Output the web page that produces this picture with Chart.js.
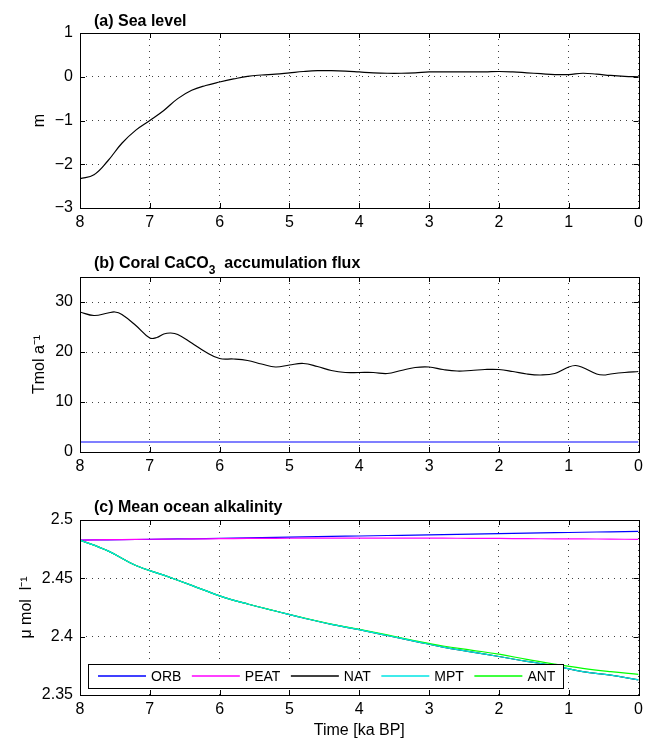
<!DOCTYPE html>
<html>
<head>
<meta charset="utf-8">
<title>Sea level, coral CaCO3 flux and mean ocean alkalinity</title>
<script src="https://cdn.jsdelivr.net/npm/chart.js@4.4.1/dist/chart.umd.min.js"></script>
<style>
    html, body { margin: 0; padding: 0; background: #fff; }
    #wrap {
        position: relative;
        width: 648px;
        height: 740px;
        font-family: "Liberation Sans", Arial, Helvetica, sans-serif;
    }
    #wrap canvas { position: absolute; left: 0; }
    .panel-title {
        position: absolute;
        left: 94px;
        font-size: 16px;
        font-weight: bold;
        line-height: 16px;
        white-space: pre;
        color: #000;
    }
    .panel-title sub { font-size: 12px; vertical-align: -6px; line-height: 0; }
</style>
</head>
<body>
<div id="wrap">
    <canvas id="chartA" width="648" height="240" style="top:0"></canvas>
    <canvas id="chartB" width="648" height="245" style="top:240px"></canvas>
    <canvas id="chartC" width="648" height="255" style="top:485px"></canvas>
    <div class="panel-title" style="top:13px">(a) Sea level</div>
    <div class="panel-title" style="top:255px">(b) Coral CaCO<sub>3</sub>  accumulation flux</div>
    <div class="panel-title" style="top:499px">(c) Mean ocean alkalinity</div>
</div>
<script>
(function () {
    'use strict';

    // ---- data (time in ka BP) ----
    var X_TICKS = [8, 7, 6, 5, 4, 3, 2, 1, 0];

    var timeA = [8, 7.8, 7.6, 7.4, 7.2, 7, 6.8, 6.6, 6.4, 6.2, 6, 5.8, 5.6, 5.4, 5.2, 5,
        4.8, 4.6, 4.4, 4.2, 4, 3.8, 3.6, 3.4, 3.2, 3, 2.8, 2.6, 2.4, 2.2, 2,
        1.8, 1.6, 1.4, 1.2, 1, 0.8, 0.6, 0.4, 0.2, 0];
    var seaLevel = [-2.33, -2.24, -1.92, -1.52, -1.22, -1.0, -0.77, -0.5, -0.31, -0.2, -0.12,
        -0.05, 0.01, 0.04, 0.06, 0.09, 0.12, 0.14, 0.14, 0.13, 0.11, 0.09, 0.08, 0.08, 0.09,
        0.11, 0.11, 0.11, 0.11, 0.11, 0.12, 0.11, 0.09, 0.07, 0.05, 0.05, 0.08, 0.06, 0.03,
        0.01, 0.0];
    var yTicksA = [-3, -2, -1, 0, 1];

    var timeB = [8, 7.8, 7.6, 7.5, 7.4, 7.2, 7, 6.9, 6.8, 6.7, 6.6, 6.4, 6.2, 6, 5.8, 5.6,
        5.4, 5.2, 5, 4.8, 4.6, 4.4, 4.2, 4, 3.8, 3.6, 3.4, 3.2, 3, 2.8, 2.6, 2.4, 2.2, 2,
        1.8, 1.6, 1.4, 1.2, 1, 0.9, 0.8, 0.6, 0.5, 0.4, 0.2, 0];
    var coralFlux = [28.0, 27.3, 27.8, 28.0, 27.5, 25.3, 22.8, 22.9, 23.6, 23.8, 23.5, 21.8,
        20.0, 18.7, 18.6, 18.3, 17.6, 17.0, 17.4, 17.7, 17.1, 16.3, 15.9, 15.9, 15.9, 15.7,
        16.3, 16.9, 17.0, 16.5, 16.2, 16.3, 16.5, 16.5, 16.1, 15.6, 15.4, 15.7, 17.0, 17.3,
        16.9, 15.6, 15.4, 15.6, 15.9, 16.1];
    var timeFlat = [8, 0];
    var coralFlat = [2, 2];
    var yTicksB = [0, 10, 20, 30];

    var timeC = [8, 7.6, 7.2, 6.8, 6.4, 6, 5.6, 5.2, 4.8, 4.4, 4, 3.6, 3.2, 2.8, 2.4, 2,
        1.6, 1.2, 0.8, 0.4, 0];
    var alkORB = [2.4828, 2.4830, 2.4833, 2.4836, 2.4839, 2.4843, 2.4847, 2.4851, 2.4855,
        2.4859, 2.4863, 2.4867, 2.4871, 2.4875, 2.4879, 2.4883, 2.4887, 2.4891, 2.4895,
        2.4899, 2.4903];
    var alkPEAT = [2.4828, 2.4831, 2.4834, 2.4836, 2.4838, 2.4840, 2.4842, 2.4843, 2.4844,
        2.4845, 2.4845, 2.4845, 2.4845, 2.4844, 2.4843, 2.4842, 2.4840, 2.4839, 2.4838,
        2.4836, 2.4834];
    var alkNAT = [2.4828, 2.4735, 2.4610, 2.4527, 2.4440, 2.4350, 2.4280, 2.4220, 2.4160,
        2.4105, 2.4060, 2.4010, 2.3960, 2.3910, 2.3870, 2.3830, 2.3788, 2.3750, 2.3700,
        2.3670, 2.3630];
    var alkMPT = [2.4828, 2.4735, 2.4610, 2.4527, 2.4440, 2.4350, 2.4280, 2.4220, 2.4160,
        2.4105, 2.4060, 2.4010, 2.3960, 2.3910, 2.3870, 2.3830, 2.3788, 2.3750, 2.3700,
        2.3670, 2.3630];
    var alkANT = [2.4828, 2.4735, 2.4610, 2.4527, 2.4440, 2.4350, 2.4280, 2.4220, 2.4162,
        2.4108, 2.4063, 2.4015, 2.3965, 2.3920, 2.3885, 2.3850, 2.3805, 2.3765, 2.3728,
        2.3700, 2.3677];
    var yTicksC = [2.35, 2.4, 2.45, 2.5];

    var seriesNames = ['ORB', 'PEAT', 'NAT', 'MPT', 'ANT'];
    var seriesColors = ['#0000ff', '#ff00ff', '#000000', '#00e5e5', '#00ff00'];
    // drawing order: lower number lands on top (MPT over ANT)
    var seriesOrder = [5, 4, 3, 1, 2];

    // ---- styling ----
    var FONT = '"Liberation Sans", Arial, Helvetica, sans-serif';
    var GRID = 'rgba(0,0,0,0.75)';
    var TICK_LEN = 5;

    Chart.defaults.font.family = FONT;
    Chart.defaults.font.size = 16;
    Chart.defaults.color = '#000';

    function pairs(xs, ys) {
        var out = [];
        for (var i = 0; i < xs.length; i++) {
            out.push({ x: xs[i], y: ys[i] });
        }
        return out;
    }

    function fixedTicks(list) {
        return function (scale) {
            scale.ticks = list.map(function (v) { return { value: v }; });
        };
    }

    function fmt(v) {
        return String(Math.round(v * 1000) / 1000).replace('-', '\u2212');
    }

    // box round the axes, with short inward ticks on all four sides
    var framePlugin = {
        id: 'matlabFrame',
        afterDatasetsDraw: function (chart) {
            var a = chart.chartArea;
            var ctx = chart.ctx;
            var xs = chart.scales.x;
            var ys = chart.scales.y;
            ctx.save();
            ctx.strokeStyle = '#000';
            ctx.lineWidth = 1;
            ctx.strokeRect(Math.round(a.left) + 0.5, Math.round(a.top) + 0.5,
                Math.round(a.right - a.left), Math.round(a.bottom - a.top));
            ctx.beginPath();
            xs.ticks.forEach(function (t) {
                var px = Math.round(xs.getPixelForValue(t.value)) + 0.5;
                ctx.moveTo(px, a.bottom); ctx.lineTo(px, a.bottom - TICK_LEN);
                ctx.moveTo(px, a.top); ctx.lineTo(px, a.top + TICK_LEN);
            });
            ys.ticks.forEach(function (t) {
                var py = Math.round(ys.getPixelForValue(t.value)) + 0.5;
                ctx.moveTo(a.left, py); ctx.lineTo(a.left + TICK_LEN, py);
                ctx.moveTo(a.right, py); ctx.lineTo(a.right - TICK_LEN, py);
            });
            ctx.stroke();
            ctx.restore();
        }
    };

    // legend box drawn inside the lower left of the plot area
    var insideLegend = {
        id: 'insideLegend',
        afterDraw: function (chart) {
            var a = chart.chartArea;
            var ctx = chart.ctx;
            ctx.save();
            ctx.font = '14px ' + FONT;
            var left = Math.round(a.left) + 8;
            var bottom = Math.round(a.bottom) - 7;
            var h = 24;
            var cy = bottom - h / 2;
            var w = 10;
            for (var i = 0; i < seriesNames.length; i++) {
                w += 53 + ctx.measureText(seriesNames[i]).width + (i < seriesNames.length - 1 ? 10.5 : 8);
            }
            w = Math.round(w);
            ctx.fillStyle = '#fff';
            ctx.fillRect(left, bottom - h, w, h);
            ctx.strokeStyle = '#000';
            ctx.lineWidth = 1;
            ctx.strokeRect(left + 0.5, bottom - h + 0.5, w, h);
            var x = left + 10;
            ctx.textBaseline = 'middle';
            ctx.textAlign = 'left';
            for (var j = 0; j < seriesNames.length; j++) {
                ctx.strokeStyle = seriesColors[j];
                ctx.lineWidth = 1.3;
                ctx.beginPath();
                ctx.moveTo(x, cy);
                ctx.lineTo(x + 48, cy);
                ctx.stroke();
                x += 53;
                ctx.fillStyle = '#000';
                ctx.fillText(seriesNames[j], x, cy + 1);
                x += ctx.measureText(seriesNames[j]).width + 10.5;
            }
            ctx.restore();
        }
    };

    function line(label, xs, ys, color, order) {
        return {
            label: label,
            data: pairs(xs, ys),
            borderColor: color,
            backgroundColor: color,
            borderWidth: 1.2,
            pointRadius: 0,
            fill: false,
            tension: 0.4,
            order: order || 0
        };
    }

    function makeOptions(cfg) {
        return {
            responsive: false,
            animation: false,
            devicePixelRatio: 1,
            layout: { padding: { top: cfg.top, right: 7, bottom: 0, left: 0 } },
            plugins: {
                legend: { display: false },
                tooltip: { enabled: false }
            },
            scales: {
                x: {
                    type: 'linear',
                    min: 0,
                    max: 8,
                    reverse: true,
                    afterBuildTicks: fixedTicks(X_TICKS),
                    afterFit: function (s) { s.height = cfg.xHeight; },
                    ticks: { padding: 5, maxRotation: 0, autoSkip: false, callback: fmt },
                    grid: { color: GRID, lineWidth: 1, drawTicks: false },
                    border: { display: false, dash: [1, 5] },
                    title: cfg.xTitle
                        ? { display: true, text: cfg.xTitle, padding: { top: 0, bottom: 0 } }
                        : { display: false }
                },
                y: {
                    type: 'linear',
                    min: cfg.yMin,
                    max: cfg.yMax,
                    afterBuildTicks: fixedTicks(cfg.yTicks),
                    afterFit: function (s) { s.width = 80; },
                    ticks: { padding: 7, autoSkip: false, callback: fmt },
                    grid: { color: GRID, lineWidth: 1, drawTicks: false },
                    border: { display: false, dash: [1, 5] },
                    title: {
                        display: true,
                        text: cfg.yTitle,
                        padding: { top: cfg.yTitlePad, bottom: 0 }
                    }
                }
            }
        };
    }

    new Chart(document.getElementById('chartA'), {
        type: 'line',
        data: { datasets: [line('Sea level', timeA, seaLevel, '#000')] },
        options: makeOptions({
            top: 33, xHeight: 32, yMin: -3, yMax: 1, yTicks: yTicksA,
            yTitle: 'm', yTitlePad: 30
        }),
        plugins: [framePlugin]
    });

    new Chart(document.getElementById('chartB'), {
        type: 'line',
        data: {
            datasets: [
                line('Coral flux', timeB, coralFlux, '#000', 0),
                line('Constant', timeFlat, coralFlat, '#0000ff', 1)
            ]
        },
        options: makeOptions({
            top: 37, xHeight: 33, yMin: 0, yMax: 35, yTicks: yTicksB,
            yTitle: 'Tmol a\u207B\u00B9', yTitlePad: 30
        }),
        plugins: [framePlugin]
    });

    var alkSeries = [alkORB, alkPEAT, alkNAT, alkMPT, alkANT];
    var alkSets = [];
    for (var k = 0; k < seriesNames.length; k++) {
        alkSets.push(line(seriesNames[k], timeC, alkSeries[k], seriesColors[k], seriesOrder[k]));
    }

    new Chart(document.getElementById('chartC'), {
        type: 'line',
        data: { datasets: alkSets },
        options: makeOptions({
            top: 35, xHeight: 45, yMin: 2.35, yMax: 2.5, yTicks: yTicksC,
            yTitle: '\u03BC mol  l\u207B\u00B9', yTitlePad: 17, xTitle: 'Time [ka BP]'
        }),
        plugins: [framePlugin, insideLegend]
    });
})();
</script>
</body>
</html>
